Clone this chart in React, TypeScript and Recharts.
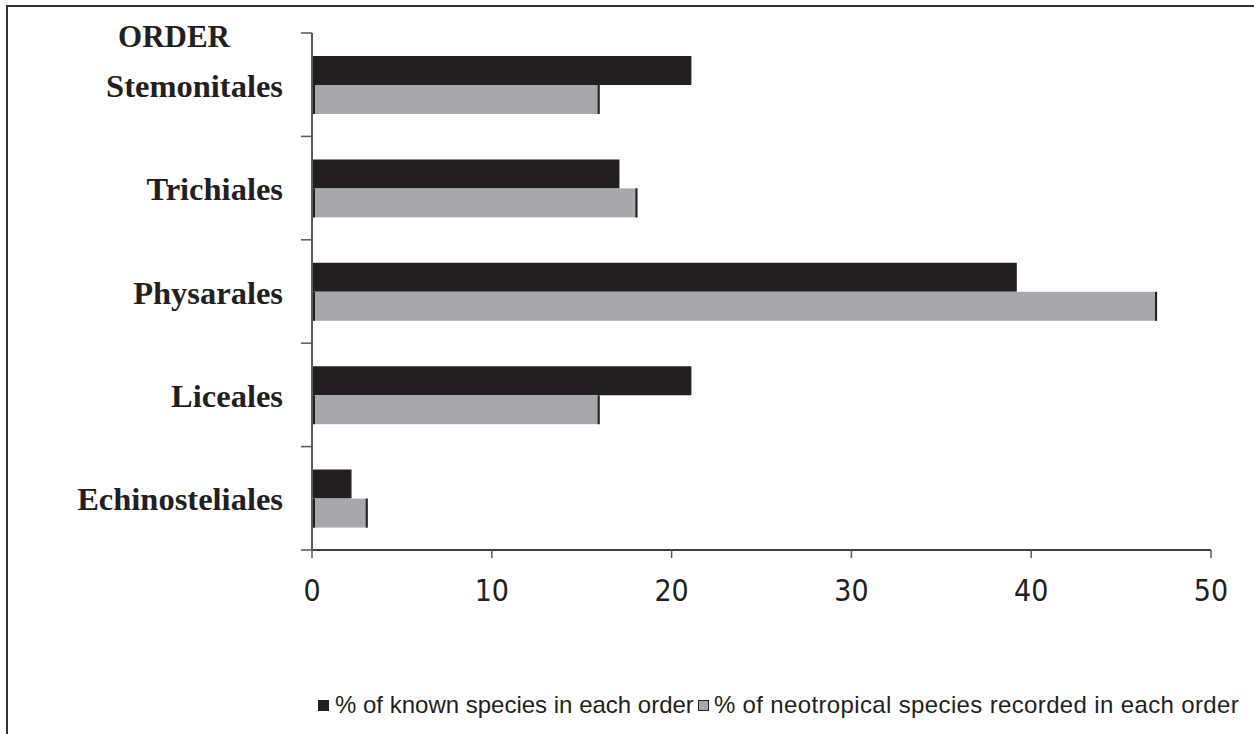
import React from 'react';
import { BarChart, Bar, XAxis, YAxis, Legend } from 'recharts';

const orders = ['Stemonitales', 'Trichiales', 'Physarales', 'Liceales', 'Echinosteliales'];
const knownPct = [21.1, 17.1, 39.2, 21.1, 2.2];
const neotropicalPct = [16.0, 18.1, 47.0, 16.0, 3.1];
const xTicks = [0, 10, 20, 30, 40, 50];
const seriesNames = ['% of known species in each order', '% of neotropical species recorded in each order'];

const data = orders.map((o, i) => ({ order: o, known: knownPct[i], neo: neotropicalPct[i] }));

const W = 1254;
const H = 734;
const AXIS_X = 312;
const PLOT_TOP = 33;
const PLOT_BOTTOM = 550;
const PLOT_RIGHT = 1211;
const PLOT_H = PLOT_BOTTOM - PLOT_TOP;
const X_AXIS_H = 60;

const BLACK = '#231f20';
const GRAY = '#a7a8ab';
const AXIS_COLOR = '#58595b';
const BORDER_GRAY = '#a0a1a4';
const SERIF = "'Liberation Serif', 'Times New Roman', serif";

const YTick = (props: any) => {
  const { y, payload, index } = props;
  const band = PLOT_H / orders.length;
  return (
    <g>
      <line x1={AXIS_X - 11} x2={AXIS_X} y1={y - band / 2} y2={y - band / 2} stroke={AXIS_COLOR} strokeWidth={1.5} />
      {index === orders.length - 1 && (
        <line x1={AXIS_X - 11} x2={AXIS_X} y1={y + band / 2} y2={y + band / 2} stroke={AXIS_COLOR} strokeWidth={1.5} />
      )}
      <text
        x={AXIS_X - 29}
        y={y + 1}
        textAnchor="end"
        dominantBaseline="central"
        fontFamily={SERIF}
        fontWeight="bold"
        fontSize={32.5}
        fill={BLACK}
      >
        {payload.value}
      </text>
    </g>
  );
};

const GrayBar = (props: any) => {
  const { x, y, width, height } = props;
  if (!width || width <= 0) return null;
  return (
    <g>
      <rect x={x + 1.5} y={y} width={width - 1.5} height={height} fill={GRAY} />
      <rect x={x + 1} y={y} width={2} height={height} fill={BLACK} />
      <rect x={x + width - 2} y={y} width={2} height={height} fill={BLACK} />
    </g>
  );
};

const renderLegend = () => (
  <div
    style={{
      display: 'flex',
      alignItems: 'center',
      fontFamily: "'Liberation Sans', Arial, sans-serif",
      fontSize: 24,
      lineHeight: '28px',
      color: BLACK,
      whiteSpace: 'nowrap',
    }}
  >
    <span style={{ display: 'inline-block', width: 11, height: 11, background: BLACK, marginRight: 6 }} />
    <span style={{ marginRight: 4 }}>{seriesNames[0]}</span>
    <span
      style={{ display: 'inline-block', width: 9, height: 9, background: GRAY, border: `1px solid ${BLACK}`, marginRight: 5 }}
    />
    <span style={{ letterSpacing: '0.36px' }}>{seriesNames[1]}</span>
  </div>
);

export default function App() {
  return (
    <div style={{ position: 'absolute', left: 0, top: 0, width: W, height: H, background: '#fff', overflow: 'hidden' }}>
      <div
        style={{
          position: 'absolute',
          left: 6,
          top: 5,
          width: W + 20,
          height: H + 20,
          borderLeft: '2px solid #333',
          borderTop: '2px solid #333',
          boxSizing: 'border-box',
        }}
      />
      <div style={{ position: 'absolute', left: 0, top: 0 }}>
        <BarChart
          width={W}
          height={H}
          data={data}
          layout="vertical"
          barGap={0}
          barSize={29}
          margin={{ top: PLOT_TOP, right: W - PLOT_RIGHT, bottom: H - PLOT_BOTTOM - X_AXIS_H, left: 0 }}
        >
          <XAxis
            type="number"
            domain={[0, 50]}
            ticks={xTicks}
            height={X_AXIS_H}
            tickSize={8}
            tickMargin={22}
            axisLine={{ stroke: '#404041', strokeWidth: 2 }}
            tickLine={{ stroke: AXIS_COLOR, strokeWidth: 1.5 }}
            tick={{
              fill: BLACK,
              fontSize: 30,
              fontFamily: "'DejaVu Sans Condensed', 'DejaVu Sans', Verdana, sans-serif",
              style: { fontStretch: 'condensed' },
            }}
          />
          <XAxis
            xAxisId="top"
            orientation="top"
            type="number"
            domain={[0, 50]}
            height={0}
            tick={false}
            tickLine={false}
            axisLine={{ stroke: BORDER_GRAY, strokeWidth: 2 }}
          />
          <YAxis
            type="category"
            dataKey="order"
            width={AXIS_X}
            tick={<YTick />}
            tickLine={false}
            axisLine={{ stroke: AXIS_COLOR, strokeWidth: 2 }}
            interval={0}
            label={{
              content: () => (
                <text
                  x={174}
                  y={36}
                  textAnchor="middle"
                  dominantBaseline="central"
                  fontFamily={SERIF}
                  fontWeight="bold"
                  fontSize={31}
                  fill={BLACK}
                >
                  ORDER
                </text>
              ),
            }}
          />
          <YAxis
            yAxisId="right"
            orientation="right"
            type="category"
            dataKey="order"
            width={0}
            tick={false}
            tickLine={false}
            axisLine={{ stroke: BORDER_GRAY, strokeWidth: 2.5 }}
          />
          <Legend
            verticalAlign="middle"
            align="center"
            layout="horizontal"
            content={renderLegend}
            wrapperStyle={{ position: 'absolute', left: 318, top: 691, width: 'auto' }}
          />
          <Bar dataKey="known" name={seriesNames[0]} fill={BLACK} isAnimationActive={false} />
          <Bar dataKey="neo" name={seriesNames[1]} fill={GRAY} shape={<GrayBar />} isAnimationActive={false} />
        </BarChart>
      </div>
    </div>
  );
}
